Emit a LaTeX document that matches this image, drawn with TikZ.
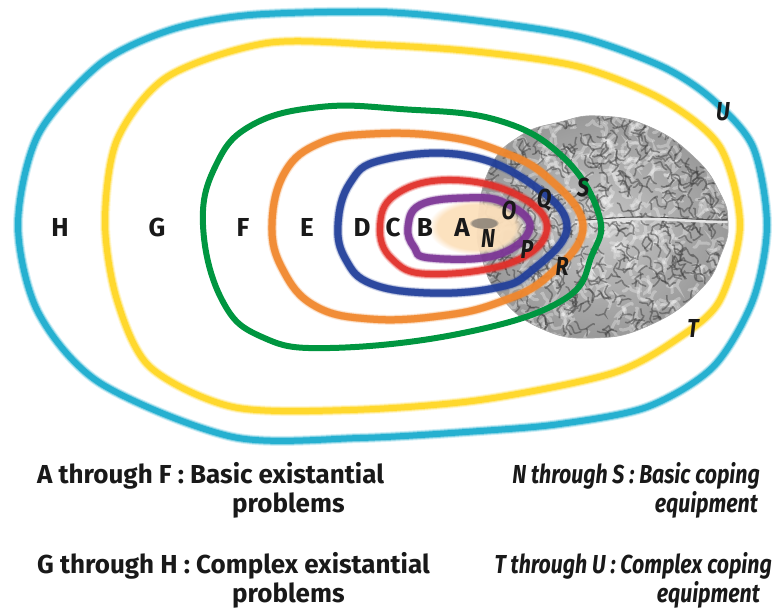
\documentclass[tikz,border=0pt]{standalone}
\usepackage{fontspec}
\setsansfont{Fira Sans}
\newfontfamily\lblfont{Fira Sans}
\newfontfamily\copefont{Fira Sans}[FakeStretch=0.82]
\usetikzlibrary{fadings}
\definecolor{ringcyan}{RGB}{27,172,206}
\definecolor{ringyellow}{RGB}{255,214,35}
\definecolor{ringgreen}{RGB}{0,150,64}
\definecolor{ringorange}{RGB}{240,135,45}
\definecolor{ringblue}{RGB}{35,64,154}
\definecolor{ringred}{RGB}{225,48,42}
\definecolor{ringpurple}{RGB}{125,55,150}
\definecolor{peach}{RGB}{252,224,188}
\begin{document}
\begin{tikzpicture}[x=1pt, y=-1pt,
  ring/.style={draw=#1, line width=6pt, opacity=.9,
    preaction={draw=#1, line width=10pt, opacity=.2},
    preaction={draw=#1, line width=8pt, opacity=.4}},
  lett/.style={font=\lblfont\bfseries\fontsize{26}{26}\selectfont, inner sep=0pt, text=black!90},
  cope/.style={font=\copefont\bfseries\itshape\fontsize{26}{26}\selectfont, inner sep=0pt, text=black!90},
  worm/.style={draw=black!75, line width=1.5pt, line cap=round, opacity=.5}]
\useasboundingbox (0,0) rectangle (773,612);
\pgfmathsetseed{11}
% brain
\def\brainpath{plot[smooth cycle, tension=.8] coordinates {(478,222) (490,168) (520,136) (560,122) (600,116) (650,127) (695,158) (720,193) (728,222) (722,252) (700,290) (650,325) (593,338) (540,328) (500,296) (482,258)}}
\shade[inner color=gray!45, outer color=gray!80] \brainpath;
\begin{scope}
\clip \brainpath;
\foreach \i in {1,...,420}{
  \pgfmathsetmacro\gx{470+rnd*265}
  \pgfmathsetmacro\gy{110+rnd*235}
  \pgfmathsetmacro\ga{rnd*360}
  \draw[worm, draw=white, line width=3pt, opacity=.3] (\gx,\gy) to[out=\ga, in=\ga+120] ++(\ga+60:10) to[out=\ga-60, in=\ga+180] ++(\ga:8);
}
\foreach \i in {1,...,520}{
  \pgfmathsetmacro\gx{470+rnd*265}
  \pgfmathsetmacro\gy{110+rnd*235}
  \pgfmathsetmacro\ga{rnd*360}
  \draw[worm] (\gx,\gy) to[out=\ga, in=\ga+120] ++(\ga+60:9) to[out=\ga-60, in=\ga+180] ++(\ga:7);
}
\draw[white!80!gray, line width=2.5pt] (575,222) to[out=0, in=180] (640,219) to[out=0, in=180] (730,222);
\draw[black!70, line width=.8pt] (575,220) to[out=0, in=180] (640,217) to[out=0, in=180] (730,220);
\end{scope}
\draw[gray!70, line width=.6pt] \brainpath;
\fill[peach, opacity=.95, path fading=circle with fuzzy edge 20 percent] (476,227) ellipse [x radius=48pt, y radius=28pt];
\fill[black!65, opacity=.6, path fading=circle with fuzzy edge 20 percent] (484,223) ellipse [x radius=15pt, y radius=6pt];
% rings
\draw[ring=ringcyan] plot[smooth cycle] coordinates {(18,225) (38,135) (100,64) (170,30) (250,15) (380,12) (480,21) (580,37) (663,67) (713,100) (753,147) (767,225) (753,300) (713,367) (647,407) (560,424) (480,431) (360,438) (233,437) (100,383) (38,312)};
\draw[ring=ringyellow] plot[smooth cycle] coordinates {(105,222) (117,140) (167,77) (267,43) (380,45) (480,52) (580,67) (663,100) (720,147) (740,225) (720,300) (680,337) (613,373) (480,400) (350,410) (233,407) (150,367) (117,300)};
\draw[ring=ringorange, line width=7pt] plot[smooth cycle, tension=.7] coordinates {(272,225) (285,172) (320,143) (370,134) (440,136) (497,150) (547,177) (583,227) (547,277) (497,303) (440,316) (370,319) (315,306) (283,270)};
\draw[ring=ringblue, line width=7pt] plot[smooth cycle, tension=.7] coordinates {(338,225) (350,183) (382,160) (463,155) (530,183) (567,227) (530,272) (495,288) (430,293) (372,284) (346,260)};
\draw[ring=ringred] plot[smooth cycle, tension=.7] coordinates {(380,227) (395,195) (447,180) (513,193) (547,227) (513,262) (430,274) (392,259)};
\draw[ring=ringpurple, line width=7pt] plot[smooth cycle, tension=.7] coordinates {(408,227) (420,205) (463,198) (503,202) (530,227) (497,255) (430,258) (414,247)};
\draw[ringgreen, line width=6pt] plot[smooth cycle, tension=.7] coordinates {(203,225) (216,165) (252,125) (320,107) (400,109) (497,120) (563,157) (599,215) (592,255) (563,300) (463,333) (330,348) (262,337) (222,300)};
% letters
\node[lett] (lH) at (60,227) {H};
\node[lett] (lG) at (157,227) {G};
\node[lett] (lF) at (243,227) {F};
\node[lett] (lE) at (307,227) {E};
\node[lett] (lD) at (362,227) {D};
\node[lett] (lC) at (393,227) {C};
\node[lett] (lB) at (425,227) {B};
\node[lett] (lA) at (462,227) {A};
\node[cope] (cN) at (488,238) {N};
\node[cope] (cO) at (509,210) {O};
\node[cope] (cP) at (527,249) {P};
\node[cope] (cQ) at (544,200) {Q};
\node[cope] (cR) at (562,266) {R};
\node[cope] (cS) at (583,187) {S};
\node[cope] (cT) at (693,328) {T};
\node[cope] (cU) at (723,112) {U};
% captions
\node[lett, anchor=base west] (capAF) at (37,483) {A through F : Basic existantial};
\node[lett, anchor=base west] (capAFb) at (232,512) {problems};
\node[lett, anchor=base west] (capGH) at (37,573) {G through H : Complex existantial};
\node[lett, anchor=base west] (capGHb) at (232,602) {problems};
\node[cope, anchor=base east] (capNS) at (760,483) {N through S : Basic coping};
\node[cope, anchor=base east] (capNSb) at (758,512) {equipment};
\node[cope, anchor=base east] (capTU) at (772,573) {T through U : Complex coping};
\node[cope, anchor=base east] (capTUb) at (760,602) {equipment};
\end{tikzpicture}
\end{document}
